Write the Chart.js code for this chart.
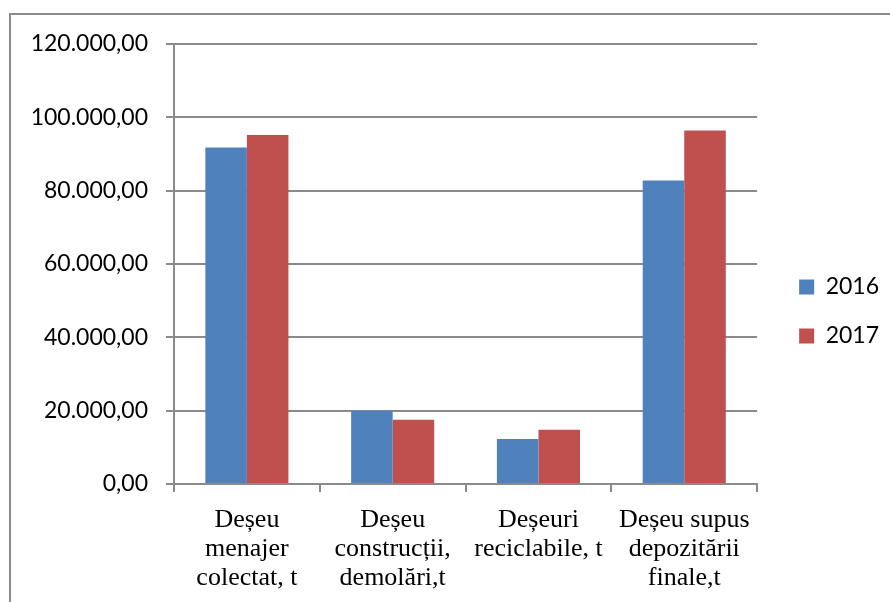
<!DOCTYPE html>
<html>
<head>
<meta charset="utf-8">
<script src="https://cdn.jsdelivr.net/npm/chart.js@4.4.1/dist/chart.umd.min.js"></script>
<style>
  html, body { margin: 0; padding: 0; background: #fff; }
  #wrap { position: relative; width: 890px; height: 602px; overflow: hidden; }
  #frame { position: absolute; left: 9px; top: 13px; width: 900px; height: 600px;
           border-left: 2px solid #8a8a8a; border-top: 2px solid #8a8a8a; }
  canvas { position: absolute; left: 0; top: 0; }
</style>
</head>
<body>
<div id="wrap">
  <div id="frame"></div>
  <canvas id="c" width="890" height="602"></canvas>
</div>
<script>
/* categories, series, axis */
const categories = [
    ['Deșeu', 'menajer', 'colectat, t'],
    ['Deșeu', 'construcții,', 'demolări,t'],
    ['Deșeuri', 'reciclabile, t'],
    ['Deșeu supus', 'depozitării', 'finale,t']
];
const seriesNames = ['2016', '2017'];
const values2016 = [91800, 20000, 12300, 82800];
const values2017 = [95200, 17500, 14800, 96400];
const yMin = 0, yMax = 120000, yStep = 20000;

const GRID = '#8a8a8a';

// 120000 -> "120.000,00"
function fmtRo(v) {
    const s = Math.round(v).toString().replace(/\B(?=(\d{3})+(?!\d))/g, '.');
    return s + ',00';
}

new Chart(document.getElementById('c'), {
    type: 'bar',
    data: {
        labels: categories,
        datasets: [
            { label: seriesNames[0], data: values2016, backgroundColor: '#4F81BD', borderWidth: 0 },
            { label: seriesNames[1], data: values2017, backgroundColor: '#C0504D', borderWidth: 0 }
        ]
    },
    options: {
        responsive: false, animation: false,
        layout: { padding: { top: 21, bottom: 0, left: 0, right: 1 } },
        datasets: { bar: { categoryPercentage: 0.57, barPercentage: 1 } },
        plugins: {
            tooltip: { enabled: false },
            legend: {
                position: 'right',
                labels: {
                    boxWidth: 15, boxHeight: 15, padding: 26, color: '#000',
                    font: { family: 'Lato', size: 23 }
                }
            }
        },
        scales: {
            x: {
                grid: { drawOnChartArea: false, drawTicks: true, tickLength: 8, color: GRID, lineWidth: 2 },
                border: { color: GRID, width: 2 },
                ticks: {
                    color: '#000', padding: 14, maxRotation: 0, autoSkip: false,
                    font: { family: 'Liberation Serif', size: 26, lineHeight: 1.115 }
                },
                afterFit: s => { s.height = 118; }
            },
            y: {
                min: yMin, max: yMax,
                grid: { color: GRID, lineWidth: 2, tickLength: 8 },
                border: { color: GRID, width: 2 },
                ticks: {
                    stepSize: yStep, color: '#000', padding: 18,
                    font: { family: 'Lato', size: 23 },
                    callback: v => fmtRo(v)
                },
                afterFit: s => { s.width = 174; }
            },
            // spacer scales: keep the plot area clear of frame top and legend
            xPad: {
                type: 'linear', position: 'top', display: true,
                grid: { display: false }, border: { display: false }, ticks: { display: false },
                afterFit: s => { s.height = 23; }
            },
            yPad: {
                type: 'linear', position: 'right', display: true,
                grid: { display: false }, border: { display: false }, ticks: { display: false },
                afterFit: s => { s.width = 16; }
            }
        }
    }
});
</script>
</body>
</html>
